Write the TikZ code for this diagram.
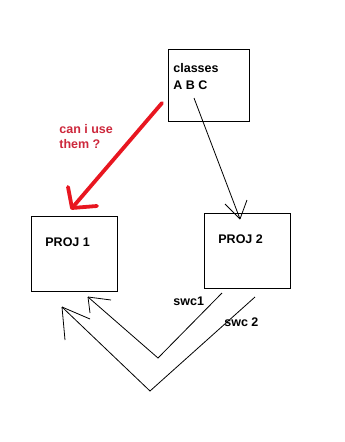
\documentclass[tikz,border=0pt]{standalone}
\usepackage{fontspec}
\setmainfont{Liberation Sans}
\usepackage{tikz}
\usetikzlibrary{positioning,arrows.meta}
\definecolor{penred}{RGB}{232,22,32}
\definecolor{inkred}{RGB}{205,40,60}

\begin{document}
\begin{tikzpicture}[x=1pt, y=-1pt, line width=0.8pt,
  every node/.style={font=\fontsize{12.5}{17}\selectfont\bfseries, inner sep=0pt},
  b/.style={draw, line width=0.9pt, minimum width=86pt, minimum height=75pt},
  lb/.style={anchor=base west},
  rd/.style={lb, text=inkred},
  pen/.style={penred, line width=3.8pt, line cap=round, line join=round}]
  \useasboundingbox (0,0) rectangle (345,442);
  % the three boxes
  \node[b, minimum width=81pt, minimum height=72pt] (classes) at (208.5,85) {};
  \node[b] (proj1) at (74,253.5) {};
  \node[b] (proj2) at (247,250.5) {};
  % their texts
  \node[lb] (cls) at (173,72) {classes};
  \node[lb] (abc) at (173,89) {A B C};
  \node[lb] (p1) at (45,246) {PROJ 1};
  \node[lb] (p2) at (218,243) {PROJ 2};
  \node[rd] (ask1) at (59,133) {can i use};
  \node[rd] (ask2) at (59,148) {them ?};
  \node[lb] (swa) at (173,305) {swc1};
  \node[lb] (swb) at (224,326) {swc 2};
  % free ends of the hand drawn lines, and their tips
  \coordinate (cfrom) at (194,98);   \coordinate (p2top) at (240,219);
  \coordinate (rfrom) at (162,103);  \coordinate (p1top) at (72,208);
  \coordinate (sa0) at (222,293);  \coordinate (sa1) at (158,358);  \coordinate (sa2) at (88,297);
  \coordinate (sb0) at (255,297);  \coordinate (sb1) at (150,391);  \coordinate (sb2) at (62,307);
  % lines with hand drawn heads
  \draw (cfrom) -- (p2top);
  \draw (p2top) -- ++(-15,-15) (p2top) -- ++(7,-19);
  \draw[pen] (rfrom) -- (p1top);
  \draw[pen] (p1top) -- ++(-4,-21) (p1top) -- ++(25,-2);
  \draw (sa0) -- (sa1) -- (sa2);
  \draw (sa2) -- ++(23,3) (sa2) -- ++(2,16);
  \draw (sb0) -- (sb1) -- (sb2);
  \draw (sb2) -- ++(28,12) (sb2) -- ++(3,33);
\end{tikzpicture}
\end{document}
